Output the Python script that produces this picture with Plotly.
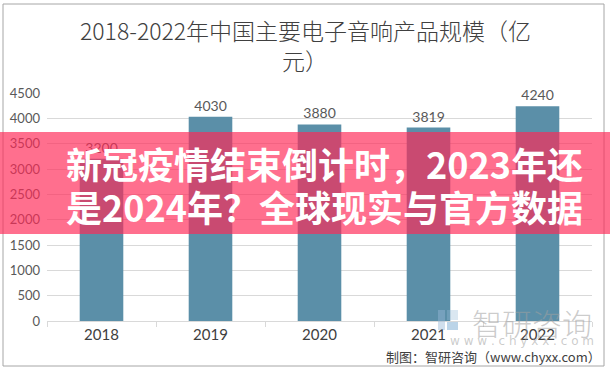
import plotly.graph_objects as go

years = ["2018", "2019", "2020", "2021", "2022"]
values = [3200, 4030, 3880, 3819, 4240]
title_line1 = "2018-2022年中国主要电子音响产品规模（亿"
title_line2 = "元）"
banner_line1 = "新冠疫情结束倒计时，2023年还"
banner_line2 = "是2024年？全球现实与官方数据"
source_text = "制图：智研咨询（www.chyxx.com）"
wm_text = "智研咨询"
wm_url = "w w w . c h y x x . c o m"

W, H = 610, 369
L, R, T, B = 47, 592, 93, 321
PW, PH = R - L, B - T

def px(x):
    return (x - L) / PW

def py(y):
    return (B - y) / PH

fig = go.Figure()
fig.add_trace(go.Bar(
    x=years, y=values, text=[str(v) for v in values],
    textposition="outside", cliponaxis=False,
    textfont=dict(family="Lato, Open Sans, sans-serif", size=14, color="#595959"),
    marker=dict(color="#5B8FA8", line=dict(width=0)),
    width=0.4, hoverinfo="skip",
))

shapes = [
    dict(type="rect", xref="paper", yref="paper", x0=px(3), x1=px(604), y0=py(366), y1=py(4),
         line=dict(color="#A6A6A6", width=1), fillcolor="rgba(0,0,0,0)", layer="below"),
    dict(type="rect", xref="paper", yref="paper", x0=px(0), x1=px(610), y0=py(234), y1=py(132),
         line=dict(width=0), fillcolor="rgba(255,40,86,0.67)", layer="above"),
    dict(type="rect", xref="paper", yref="paper", x0=px(438), x1=px(445), y0=py(330), y1=py(310),
         line=dict(width=0), fillcolor="rgba(150,185,215,0.45)", layer="above"),
    dict(type="rect", xref="paper", yref="paper", x0=px(447), x1=px(458), y0=py(320), y1=py(310),
         line=dict(width=0), fillcolor="rgba(150,185,215,0.35)", layer="above"),
    dict(type="rect", xref="paper", yref="paper", x0=px(447), x1=px(458), y0=py(330), y1=py(322),
         line=dict(width=0), fillcolor="rgba(120,170,210,0.5)", layer="above"),
]

ann = [
    dict(text=title_line1, x=px(305), y=py(30), font=dict(family="Noto Sans CJK SC", size=23, color="#404040", weight=300)),
    dict(text=title_line2, x=px(305), y=py(60), font=dict(family="Noto Sans CJK SC", size=23, color="#404040", weight=300)),
    dict(text="<b>" + banner_line1 + "</b>", x=px(324), y=py(163),
         font=dict(family="Noto Sans CJK SC", size=36, color="white")),
    dict(text="<b>" + banner_line2 + "</b>", x=px(324), y=py(206),
         font=dict(family="Noto Sans CJK SC", size=36, color="white")),
    dict(text=wm_text, x=px(532), y=py(322),
         font=dict(family="Noto Sans CJK SC", size=30, color="rgba(160,160,160,0.55)", weight=300)),
    dict(text=wm_url, x=px(522), y=py(341),
         font=dict(family="DejaVu Sans", size=12, color="rgba(160,160,160,0.55)")),
    dict(text=source_text, x=px(603), y=py(356), xanchor="right",
         font=dict(family="Noto Sans CJK SC", size=13, color="#404040")),
]
annotations = []
for a in ann:
    d = dict(xref="paper", yref="paper", showarrow=False, xanchor="center", yanchor="middle")
    d.update(a)
    annotations.append(d)

fig.update_layout(
    width=W, height=H,
    margin=dict(l=L, r=W - R, t=T, b=H - B, pad=0, autoexpand=False),
    paper_bgcolor="white", plot_bgcolor="white",
    showlegend=False, hovermode=False,
    shapes=shapes, annotations=annotations,
    xaxis=dict(type="category", showline=True, linecolor="#D9D9D9", linewidth=1,
               ticks="outside", tickson="boundaries", ticklen=5, tickcolor="#D9D9D9",
               tickfont=dict(family="Lato, Open Sans, sans-serif", size=15, color="#404040"),
               showgrid=False, fixedrange=True, automargin=False),
    yaxis=dict(range=[0, 4500], dtick=500, showgrid=True, gridcolor="#D9D9D9", gridwidth=1,
               zeroline=False, showline=False, ticks="", automargin=False, fixedrange=True,
               tickfont=dict(family="Lato, Open Sans, sans-serif", size=13, color="#595959"),
               ticklabelstandoff=6),
    bargap=0.6,
)

fig.write_html("out.html", config={"displayModeBar": False, "staticPlot": True},
               post_script="document.body.style.margin='0';document.body.style.overflow='hidden';")
